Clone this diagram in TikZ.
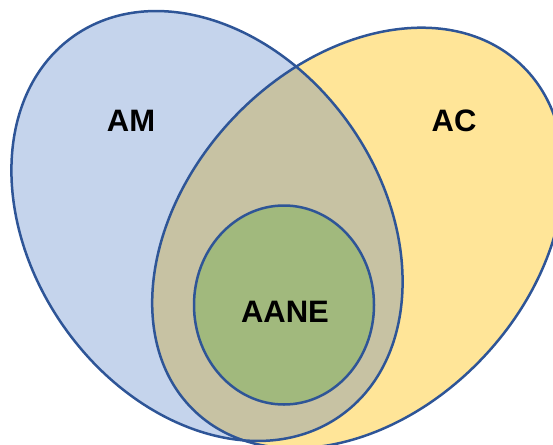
\documentclass[tikz,border=0pt]{standalone}
\usepackage{fontspec}
\setmainfont{Liberation Sans}
\usetikzlibrary{positioning}
\definecolor{amfill}{HTML}{C5D4EC}
\definecolor{acfill}{HTML}{FFE598}
\definecolor{bothfill}{HTML}{C7C2A3}
\definecolor{aanefill}{HTML}{A1B97D}
\definecolor{edgeblue}{HTML}{2E5597}

\begin{document}
\begin{tikzpicture}[x=1pt, y=-1pt,
        setline/.style={draw=edgeblue, line width=2.5pt},
        lbl/.style={font=\fontsize{31}{36}\selectfont\bfseries, inner sep=0pt},
        amrot/.style={rotate around={-55:(207,226)}},
        acrot/.style={rotate around={47:(358,238)}},
    ]
    \useasboundingbox (0,0) rectangle (553,444);

    % Fills of the two sets
    \fill[amfill, amrot] (207,226) ellipse [x radius=232, y radius=175];
    \fill[acfill, acrot] (358,238) ellipse [x radius=238, y radius=173];
    \begin{scope}
        \clip[amrot] (207,226) ellipse [x radius=232, y radius=175];
        \fill[bothfill, acrot] (358,238) ellipse [x radius=238, y radius=173];
    \end{scope}

    % Outlines
    \draw[setline, amrot] (207,226) ellipse [x radius=232, y radius=175];
    \draw[setline, acrot] (358,238) ellipse [x radius=238, y radius=173];

    % Inner set
    \draw[setline, fill=aanefill] (284,305) ellipse [x radius=90, y radius=99.5];

    % Labels
    \node[lbl] (am) at (131,121) {AM};
    \node[lbl] (ac) at (454,121) {AC};
    \node[lbl] (aane) at (285,312) {AANE};
\end{tikzpicture}
\end{document}
